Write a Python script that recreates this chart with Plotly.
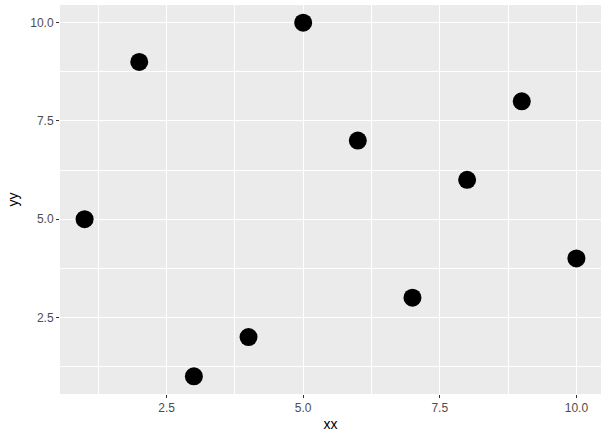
import plotly.graph_objects as go

xx = [1, 2, 3, 4, 5, 6, 7, 8, 9, 10]
yy = [5, 9, 1, 2, 10, 7, 3, 6, 8, 4]
tick_vals = [2.5, 5.0, 7.5, 10.0]
tick_text = ["2.5", "5.0", "7.5", "10.0"]

fig = go.Figure(go.Scatter(x=xx, y=yy, mode="markers",
                           marker=dict(size=18, color="black", line=dict(width=0))))

axis_common = dict(
    tickvals=tick_vals, ticktext=tick_text,
    showgrid=True, gridcolor="white", gridwidth=1.3,
    zeroline=False, showline=False, automargin=False,
    ticks="outside", ticklen=3, tickwidth=1, tickcolor="#333333",
    tickfont=dict(family="Liberation Sans, Arial", size=12, color="#4d4d4d"),
    minor=dict(tick0=1.25, dtick=2.5, showgrid=True, gridcolor="white", gridwidth=0.6, ticks=""),
    range=[0.55, 10.45],
)

fig.update_layout(
    width=610, height=436,
    paper_bgcolor="white", plot_bgcolor="#ebebeb",
    margin=dict(l=60, r=9, t=5, b=42),
    showlegend=False,
    xaxis=dict(**axis_common, title=dict(text="xx", standoff=4,
               font=dict(family="Liberation Sans, Arial", size=14, color="black"))),
    yaxis=dict(**axis_common, title=dict(text="yy", standoff=8,
               font=dict(family="Liberation Sans, Arial", size=14, color="black"))),
)

fig.write_html("out.html", config={"displayModeBar": False},
               post_script="document.body.style.margin='0';document.body.style.overflow='hidden';")
